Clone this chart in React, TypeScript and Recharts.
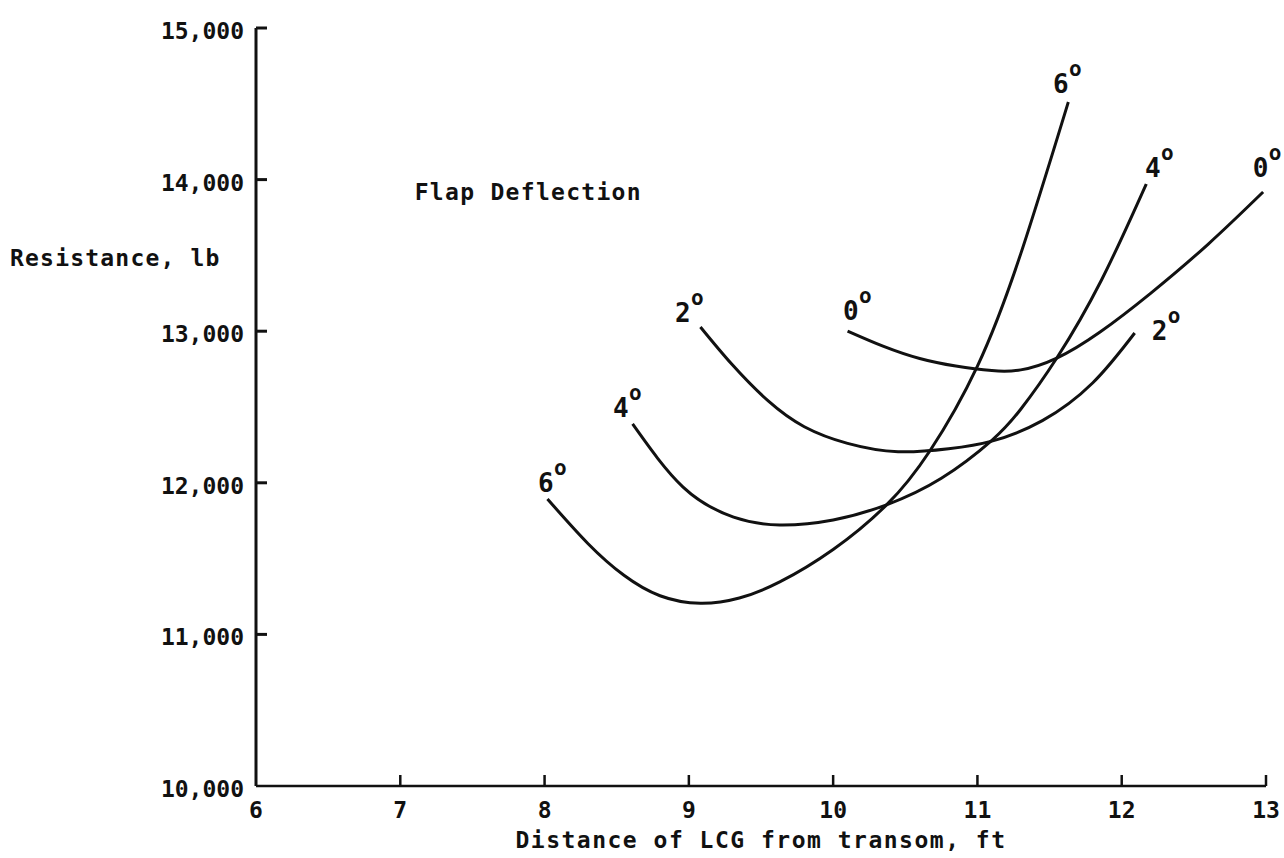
import { LineChart, Line, XAxis, YAxis, ReferenceDot } from 'recharts';

// axis ticks
const xTicks = [6, 7, 8, 9, 10, 11, 12, 13];
const yTicks = [10000, 11000, 12000, 13000, 14000, 15000];

// flap deflection 6 deg
const lcg6 = [8.02, 8.3, 8.55, 8.8, 9.08, 9.35, 9.63, 10.0, 10.37, 10.67, 11.0, 11.3, 11.63];
const res6 = [11893, 11600, 11390, 11255, 11205, 11240, 11346, 11560, 11854, 12210, 12770, 13510, 14512];

// flap deflection 4 deg
const lcg4 = [8.61, 8.96, 9.31, 9.63, 10.0, 10.37, 10.75, 11.1, 11.3, 11.55, 11.86, 12.17];
const res4 = [12388, 11972, 11774, 11722, 11755, 11855, 12030, 12280, 12485, 12823, 13338, 13971];

// flap deflection 2 deg
const lcg2 = [9.08, 9.3, 9.55, 9.8, 10.1, 10.45, 10.8, 11.1, 11.45, 11.8, 12.09];
const res2 = [13028, 12780, 12540, 12370, 12260, 12205, 12225, 12275, 12410, 12660, 12988];

// flap deflection 0 deg
const lcg0 = [10.1, 10.35, 10.6, 10.85, 11.1, 11.3, 11.55, 11.85, 12.2, 12.6, 12.98];
const res0 = [13001, 12900, 12820, 12770, 12740, 12745, 12823, 12995, 13250, 13575, 13918];

// curve labels (digit + superscript o), anchored at the digit's left baseline
const labelText = ['6', '4', '2', '0', '6', '4', '0', '2'];
const labelX = [7.954, 8.474, 8.904, 10.068, 11.523, 12.161, 12.909, 12.209];
const labelY = [11939, 12434, 13061, 13074, 14571, 14017, 14017, 12942];

const INK = '#111';
const FONT = "'DejaVu Sans Mono', monospace";

const toPoints = (xs: number[], ys: number[]) => xs.map((x, i) => ({ x, y: ys[i] }));

const series = [
  toPoints(lcg6, res6),
  toPoints(lcg4, res4),
  toPoints(lcg2, res2),
  toPoints(lcg0, res0),
];

const YTick = ({ x, y, payload }: any) => (
  <g>
    {payload.value !== 10000 && (
      <line x1={x + 12} x2={x + 23} y1={y} y2={y} stroke={INK} strokeWidth={3} />
    )}
    <text x={x} y={y + 11} textAnchor="end" fontFamily={FONT} fontWeight="bold" fontSize={23} fill={INK}>
      {payload.value.toLocaleString('en-US')}
    </text>
  </g>
);

const XTick = ({ x, y, payload }: any) => (
  <g>
    {payload.value !== 6 && (
      <line x1={x} x2={x} y1={y - 11} y2={y} stroke={INK} strokeWidth={2.5} />
    )}
    <text x={x} y={y + 32} textAnchor="middle" fontFamily={FONT} fontWeight="bold" fontSize={23} fill={INK}>
      {payload.value}
    </text>
  </g>
);

const XTitle = ({ viewBox }: any) => (
  <text
    x={viewBox.x + viewBox.width / 2}
    y={viewBox.y + 62}
    textAnchor="middle"
    fontFamily={FONT}
    fontWeight="bold"
    fontSize={23}
    letterSpacing={1.5}
    fill={INK}
  >
    Distance of LCG from transom, ft
  </text>
);

const YTitle = ({ viewBox }: any) => (
  <text
    x={viewBox.x + 10}
    y={viewBox.y + 238}
    textAnchor="start"
    fontFamily={FONT}
    fontWeight="bold"
    fontSize={23}
    letterSpacing={1.2}
    fill={INK}
  >
    Resistance, lb
  </text>
);

const DegreeMark = ({ cx, cy, text }: any) => (
  <g>
    <text x={cx} y={cy} fontFamily={FONT} fontWeight="bold" fontSize={26} fill={INK}>
      {text}
    </text>
    <text x={cx + 16} y={cy - 17} fontFamily={FONT} fontWeight="bold" fontSize={21} fill={INK}>
      o
    </text>
  </g>
);

const NoteText = ({ cx, cy }: any) => (
  <text x={cx} y={cy} fontFamily={FONT} fontWeight="bold" fontSize={23} letterSpacing={1.3} fill={INK}>
    Flap Deflection
  </text>
);

const App = () => {
  return (
    <div style={{ position: 'absolute', left: 0, top: 0, background: '#fff' }}>
      <LineChart width={1284} height={858} margin={{ top: 28, right: 18, left: 0, bottom: 0 }}>
        <XAxis
          dataKey="x"
          type="number"
          domain={[6, 13]}
          ticks={xTicks}
          allowDuplicatedCategory={false}
          height={72}
          tickSize={0}
          tickMargin={0}
          tick={<XTick />}
          axisLine={{ stroke: INK, strokeWidth: 2.5 }}
          label={<XTitle />}
        />
        <YAxis
          type="number"
          domain={[10000, 15000]}
          ticks={yTicks}
          width={256}
          tickSize={0}
          tickMargin={12}
          tick={<YTick />}
          axisLine={{ stroke: INK, strokeWidth: 3 }}
          label={<YTitle />}
        />
        {series.map((pts, i) => (
          <Line
            key={i}
            data={pts}
            dataKey="y"
            type="natural"
            stroke={INK}
            strokeWidth={3}
            dot={false}
            activeDot={false}
            isAnimationActive={false}
          />
        ))}
        {labelText.map((t, i) => (
          <ReferenceDot
            key={'lbl' + i}
            x={labelX[i]}
            y={labelY[i]}
            r={0}
            shape={(p: any) => <DegreeMark cx={p.cx} cy={p.cy} text={t} />}
          />
        ))}
        <ReferenceDot x={7.1} y={13865} r={0} shape={(p: any) => <NoteText cx={p.cx} cy={p.cy} />} />
      </LineChart>
    </div>
  );
};

export default App;
